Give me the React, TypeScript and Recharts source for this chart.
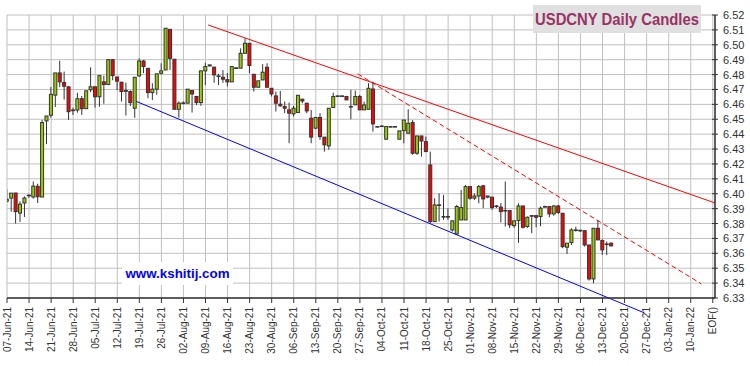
import React from "react";
import {
  ComposedChart,
  Bar,
  XAxis,
  YAxis,
  CartesianGrid,
  ReferenceLine,
} from "recharts";

const FONT = "'Liberation Sans', Arial, sans-serif";

// Monday of each week on the axis, then the end-of-file marker
const weekLabels = [
  "07-Jun-21", "14-Jun-21", "21-Jun-21", "28-Jun-21", "05-Jul-21", "12-Jul-21",
  "19-Jul-21", "26-Jul-21", "02-Aug-21", "09-Aug-21", "16-Aug-21", "23-Aug-21",
  "30-Aug-21", "06-Sep-21", "13-Sep-21", "20-Sep-21", "27-Sep-21", "04-Oct-21",
  "11-Oct-21", "18-Oct-21", "25-Oct-21", "01-Nov-21", "08-Nov-21", "15-Nov-21",
  "22-Nov-21", "29-Nov-21", "06-Dec-21", "13-Dec-21", "20-Dec-21", "27-Dec-21",
  "03-Jan-22", "10-Jan-22", "EOF()",
];

const priceTicks = [
  6.33, 6.34, 6.35, 6.36, 6.37, 6.38, 6.39, 6.4, 6.41, 6.42,
  6.43, 6.44, 6.45, 6.46, 6.47, 6.48, 6.49, 6.5, 6.51, 6.52,
];

// one row per trading day: open, high, low, close
const ohlc: number[][] = [
  [6.3950, 6.4030, 6.3940, 6.3963], [6.3971, 6.4005, 6.3880, 6.4004], [6.4005, 6.4005, 6.3800, 6.3880],
  [6.3870, 6.3949, 6.3811, 6.3930], [6.3938, 6.3982, 6.3844, 6.3971], [6.3988, 6.3996, 6.3973, 6.3990],
  [6.3978, 6.4082, 6.3967, 6.4051], [6.4050, 6.4067, 6.3938, 6.3980], [6.3978, 6.4496, 6.3978, 6.4478],
  [6.4489, 6.4522, 6.4333, 6.4522], [6.4527, 6.4716, 6.4511, 6.4667], [6.4662, 6.4811, 6.4582, 6.4811],
  [6.4811, 6.4893, 6.4716, 6.4751], [6.4747, 6.4820, 6.4633, 6.4722], [6.4718, 6.4718, 6.4496, 6.4551],
  [6.4558, 6.4578, 6.4529, 6.4562], [6.4562, 6.4678, 6.4544, 6.4638], [6.4638, 6.4656, 6.4529, 6.4571],
  [6.4571, 6.4691, 6.4571, 6.4691], [6.4698, 6.4849, 6.4682, 6.4718], [6.4718, 6.4718, 6.4578, 6.4651],
  [6.4651, 6.4793, 6.4584, 6.4793], [6.4751, 6.4793, 6.4604, 6.4733], [6.4733, 6.4904, 6.4733, 6.4900],
  [6.4900, 6.4904, 6.4762, 6.4793], [6.4784, 6.4784, 6.4696, 6.4756], [6.4749, 6.4749, 6.4619, 6.4686],
  [6.4693, 6.4746, 6.4525, 6.4688], [6.4686, 6.4694, 6.4589, 6.4612], [6.4574, 6.4782, 6.4510, 6.4782],
  [6.4791, 6.4909, 6.4786, 6.4891], [6.4891, 6.4898, 6.4809, 6.4854], [6.4842, 6.4842, 6.4641, 6.4679],
  [6.4679, 6.4742, 6.4630, 6.4702], [6.4702, 6.4805, 6.4664, 6.4805], [6.4809, 6.4876, 6.4800, 6.4825],
  [6.4831, 6.5111, 6.4831, 6.5111], [6.5104, 6.5104, 6.4831, 6.4909], [6.4903, 6.4903, 6.4567, 6.4567],
  [6.4567, 6.4620, 6.4510, 6.4608], [6.4608, 6.4620, 6.4600, 6.4610], [6.4608, 6.4702, 6.4608, 6.4702],
  [6.4693, 6.4693, 6.4545, 6.4670], [6.4653, 6.4653, 6.4595, 6.4612], [6.4612, 6.4825, 6.4590, 6.4825],
  [6.4825, 6.4880, 6.4730, 6.4854], [6.4858, 6.4865, 6.4855, 6.4865], [6.4850, 6.4850, 6.4745, 6.4798],
  [6.4790, 6.4805, 6.4730, 6.4791], [6.4782, 6.4830, 6.4745, 6.4769], [6.4766, 6.4810, 6.4720, 6.4751],
  [6.4751, 6.4854, 6.4751, 6.4854], [6.4843, 6.4850, 6.4840, 6.4845], [6.4843, 6.4976, 6.4843, 6.4943],
  [6.4943, 6.5044, 6.4943, 6.5010], [6.5010, 6.5010, 6.4809, 6.4861], [6.4802, 6.4802, 6.4686, 6.4715],
  [6.4715, 6.4758, 6.4715, 6.4758], [6.4764, 6.4870, 6.4764, 6.4816], [6.4849, 6.4876, 6.4715, 6.4715],
  [6.4708, 6.4708, 6.4653, 6.4670], [6.4657, 6.4686, 6.4552, 6.4608], [6.4601, 6.4690, 6.4585, 6.4590],
  [6.4585, 6.4619, 6.4541, 6.4574], [6.4563, 6.4612, 6.4339, 6.4541], [6.4536, 6.4590, 6.4518, 6.4574],
  [6.4545, 6.4661, 6.4545, 6.4661], [6.4635, 6.4635, 6.4608, 6.4623], [6.4608, 6.4608, 6.4541, 6.4556],
  [6.4507, 6.4563, 6.4339, 6.4380], [6.4440, 6.4512, 6.4433, 6.4512], [6.4512, 6.4541, 6.4362, 6.4384],
  [6.4380, 6.4380, 6.4283, 6.4328], [6.4321, 6.4574, 6.4295, 6.4574], [6.4579, 6.4679, 6.4579, 6.4653],
  [6.4657, 6.4659, 6.4655, 6.4657], [6.4657, 6.4659, 6.4655, 6.4657], [6.4653, 6.4657, 6.4630, 6.4630],
  [6.4585, 6.4697, 6.4500, 6.4586], [6.4597, 6.4693, 6.4597, 6.4653], [6.4653, 6.4664, 6.4563, 6.4563],
  [6.4563, 6.4618, 6.4563, 6.4596], [6.4567, 6.4742, 6.4567, 6.4708], [6.4703, 6.4753, 6.4417, 6.4469],
  [6.4451, 6.4453, 6.4449, 6.4451], [6.4455, 6.4457, 6.4453, 6.4455], [6.4366, 6.4451, 6.4366, 6.4451],
  [6.4451, 6.4453, 6.4449, 6.4451], [6.4451, 6.4453, 6.4449, 6.4451], [6.4366, 6.4422, 6.4366, 6.4422],
  [6.4424, 6.4495, 6.4339, 6.4495], [6.4406, 6.4567, 6.4406, 6.4473], [6.4478, 6.4495, 6.4261, 6.4272],
  [6.4272, 6.4388, 6.4261, 6.4388], [6.4388, 6.4388, 6.4249, 6.4354], [6.4350, 6.4384, 6.4283, 6.4283],
  [6.4193, 6.4283, 6.3802, 6.3813], [6.3813, 6.3970, 6.3813, 6.3925], [6.3925, 6.4003, 6.3813, 6.3925],
  [6.3847, 6.3992, 6.3825, 6.3847], [6.3847, 6.3902, 6.3825, 6.3847], [6.3757, 6.3818, 6.3746, 6.3818],
  [6.3730, 6.3925, 6.3724, 6.3914], [6.3824, 6.4026, 6.3824, 6.3907], [6.3824, 6.4059, 6.3824, 6.4048],
  [6.4048, 6.4048, 6.3959, 6.3970], [6.3970, 6.4003, 6.3958, 6.3985], [6.3985, 6.4059, 6.3936, 6.4048],
  [6.4053, 6.4060, 6.3903, 6.3965], [6.3977, 6.3985, 6.3970, 6.3985], [6.3977, 6.3977, 6.3892, 6.3907],
  [6.3918, 6.3925, 6.3905, 6.3915], [6.3910, 6.3937, 6.3807, 6.3880], [6.3888, 6.4082, 6.3780, 6.3886],
  [6.3887, 6.3887, 6.3769, 6.3791], [6.3786, 6.3818, 6.3771, 6.3818], [6.3820, 6.3935, 6.3670, 6.3918],
  [6.3918, 6.3918, 6.3766, 6.3775], [6.3780, 6.3847, 6.3771, 6.3842], [6.3853, 6.3855, 6.3735, 6.3852],
  [6.3853, 6.3855, 6.3775, 6.3842], [6.3847, 6.3914, 6.3782, 6.3903], [6.3914, 6.3920, 6.3907, 6.3914],
  [6.3914, 6.3918, 6.3842, 6.3865], [6.3865, 6.3923, 6.3852, 6.3918], [6.3918, 6.3925, 6.3865, 6.3874],
  [6.3869, 6.3869, 6.3634, 6.3645], [6.3641, 6.3668, 6.3596, 6.3668], [6.3672, 6.3768, 6.3656, 6.3757],
  [6.3757, 6.3779, 6.3746, 6.3757], [6.3750, 6.3757, 6.3746, 6.3755], [6.3752, 6.3752, 6.3645, 6.3656],
  [6.3656, 6.3656, 6.3417, 6.3428], [6.3428, 6.3768, 6.3399, 6.3768], [6.3768, 6.3824, 6.3690, 6.3690],
  [6.3686, 6.3694, 6.3589, 6.3623], [6.3663, 6.3679, 6.3589, 6.3663], [6.3668, 6.3672, 6.3646, 6.3650],
];

// trend lines as [day, price] end points
const upperTrend = [[45.6, 6.5133], [160.5, 6.3938]];
const midTrend = [[79.5, 6.4805], [157.4, 6.3395]];
const lowerTrend = [[29.3, 6.462], [144.5, 6.32]];

const chartData = ohlc.map(([open, high, low, close], day) => ({
  day,
  open,
  high,
  low,
  close,
  range: [low, high],
}));

const dayTicks = weekLabels.map((_, k) => k * 5);

const Candle = (props: any) => {
  const { x, y, width, height, payload } = props;
  const { open, high, low, close } = payload;
  const cx = x + width / 2;
  const top = Math.min(y, y + height);
  const span = Math.abs(height);
  const py = (v: number) => (high === low ? top : top + ((high - v) / (high - low)) * span);
  const bTop = py(Math.max(open, close));
  const bBot = py(Math.min(open, close));
  return (
    <g>
      <line x1={cx} x2={cx} y1={top} y2={top + span} stroke="#333" strokeWidth={1} />
      <rect
        x={cx - 1.5}
        y={bTop}
        width={3}
        height={Math.max(bBot - bTop, 0.6)}
        fill={close >= open ? "#99cc00" : "#ff0000"}
        stroke="#333"
        strokeWidth={1}
      />
    </g>
  );
};

const DayTick = ({ x, y, payload }: any) => {
  const label = weekLabels[Math.round(payload.value / 5)];
  const tx = x + 3.5;
  const ty = y + 9;
  return (
    <g>
      <line x1={x} x2={x} y1={y} y2={y + 5} stroke="#333" />
      <text
        x={tx}
        y={ty}
        transform={`rotate(-90, ${tx}, ${ty})`}
        textAnchor="end"
        fontSize={10}
        fontFamily={FONT}
        fill="#333"
      >
        {label}
      </text>
    </g>
  );
};

const PriceTick = ({ x, y, payload }: any) => (
  <g>
    <line x1={x - 3} x2={x + 3} y1={y} y2={y} stroke="#333" />
    <text x={x + 8} y={y + 4} fontSize={11} fontFamily={FONT} fill="#333">
      {Number(payload.value).toFixed(2)}
    </text>
  </g>
);

const seg = (pts: number[][]) => pts.map(([x, y]) => ({ x, y }));

export default function App() {
  return (
    <div style={{ position: "absolute", left: 0, top: 0, width: 750, height: 366, background: "#fff" }}>
      <ComposedChart
        width={750}
        height={366}
        data={chartData}
        margin={{ top: 15, right: 0, bottom: 0, left: 7 }}
      >
        <CartesianGrid stroke="#c0c0c0" strokeWidth={1} />
        <XAxis
          dataKey="day"
          type="number"
          domain={[0, 160.5]}
          allowDataOverflow
          ticks={dayTicks}
          interval={0}
          height={68}
          tickSize={0}
          tickMargin={0}
          tickLine={false}
          tick={<DayTick />}
          axisLine={{ stroke: "#333", strokeWidth: 1.5 }}
        />
        <YAxis
          orientation="right"
          type="number"
          domain={[6.33, 6.52]}
          allowDataOverflow
          ticks={priceTicks}
          interval={0}
          width={35}
          tickSize={0}
          tickMargin={0}
          tickLine={false}
          tick={<PriceTick />}
          axisLine={{ stroke: "#333", strokeWidth: 1.5 }}
        />
        <Bar
          dataKey="range"
          barSize={4}
          shape={(p: any) => <Candle {...p} />}
          isAnimationActive={false}
        />
        <ReferenceLine segment={seg(upperTrend)} stroke="#ff0000" strokeWidth={1} ifOverflow="visible" />
        <ReferenceLine
          segment={seg(midTrend)}
          stroke="#ff0000"
          strokeWidth={1}
          strokeDasharray="5 3"
          ifOverflow="visible"
        />
        <ReferenceLine segment={seg(lowerTrend)} stroke="#0000ff" strokeWidth={1} ifOverflow="visible" />
      </ComposedChart>
      <svg
        width={750}
        height={366}
        style={{ position: "absolute", left: 0, top: 0, pointerEvents: "none" }}
      >
        <rect x={533} y={5} width={168} height={28} fill="#e0e0e0" />
        <text
          x={617}
          y={25}
          textAnchor="middle"
          fontSize={17}
          fontWeight="bold"
          fontFamily={FONT}
          fill="#993366"
          textLength={164}
          lengthAdjust="spacingAndGlyphs"
        >
          USDCNY Daily Candles
        </text>
        <rect x={122} y={262} width={111} height={23} fill="#ffffff" />
        <text
          x={177.5}
          y={278}
          textAnchor="middle"
          fontSize={13.5}
          fontWeight="bold"
          fontFamily={FONT}
          fill="#0000ff"
          textLength={104}
          lengthAdjust="spacingAndGlyphs"
        >
          www.kshitij.com
        </text>
      </svg>
    </div>
  );
}
